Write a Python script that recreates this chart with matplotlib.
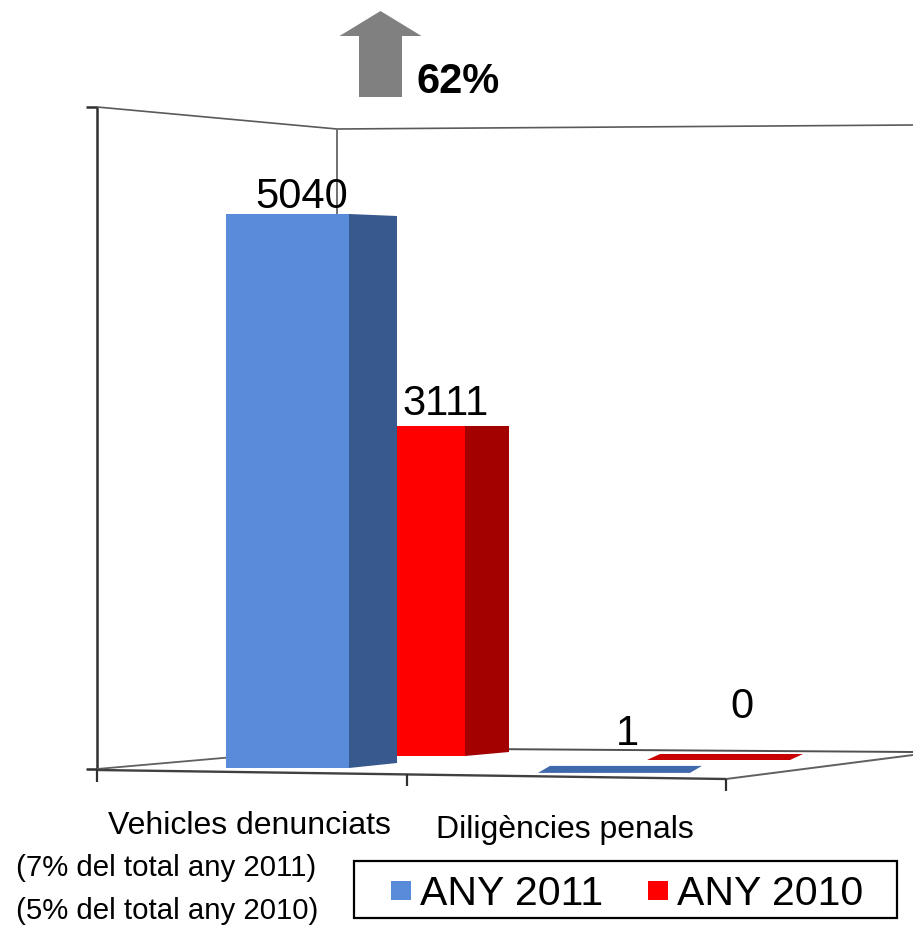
import matplotlib
matplotlib.use("Agg")
import matplotlib.pyplot as plt
from matplotlib.patches import Polygon, Rectangle, FancyArrow

# ---------------- data ----------------
categories = ["Vehicles denunciats", "Diligències penals"]
series_names = ["ANY 2011", "ANY 2010"]
values_2011 = [5040, 1]
values_2010 = [3111, 0]
change_label = "62%"
notes = ["(7% del total any 2011)", "(5% del total any 2010)"]

# ---------------- style ----------------
FONT = ["Liberation Sans", "DejaVu Sans"]
front_colors = {"ANY 2011": "#588CDA", "ANY 2010": "#FF0000"}
side_colors = {"ANY 2011": "#37598E", "ANY 2010": "#A30000"}
flat_colors = {"ANY 2011": "#4068AC", "ANY 2010": "#C80000"}
line_col = "#505050"

# pseudo-3D layout for each (category, series) slot
layout = {
    (0, 1): dict(x0=360, x1=465, floor=756, k=0.10608, sdx=44, stop=0, sbot=4,
                 tdx=0, tdy=0, lx=446, lgap=11),
    (0, 0): dict(x0=226, x1=349, floor=768, k=0.10992, sdx=48, stop=2, sbot=5,
                 tdx=0, tdy=0, lx=302, lgap=6),
    (1, 1): dict(x0=647, x1=790, floor=760, k=0.106, sdx=0, stop=0, sbot=0,
                 tdx=13, tdy=6, lx=742, lgap=42),
    (1, 0): dict(x0=538, x1=690, floor=773, k=0.11, sdx=0, stop=0, sbot=0,
                 tdx=12, tdy=7, lx=627, lgap=28),
}

W, H = 913, 925
fig = plt.figure(figsize=(W / 100, H / 100), dpi=100)
ax = fig.add_axes([0, 0, 1, 1])
ax.set_xlim(0, W)
ax.set_ylim(H, 0)
ax.axis("off")

# ---------------- walls & floor ----------------
def seg(xs, ys, lw=1.3, c=line_col, z=1):
    ax.plot(xs, ys, color=c, lw=lw, zorder=z, solid_capstyle="butt")

seg([97, 97], [107, 770], lw=1.8, c="#303030")
seg([86, 97], [107, 107], lw=1.8, c="#303030")
seg([86, 97], [769, 769], lw=1.8, c="#303030")
seg([97, 337, 913], [107, 129, 125], lw=1.2, c="#5a5a5a")
seg([337, 337], [129, 748], lw=1.4, c="#707070")
seg([97, 337], [769, 748], lw=1.3, c="#606060")
seg([337, 913], [748, 752], lw=1.4, c="#505050")
seg([97, 726], [770, 779], lw=1.7, c="#404040")
seg([726, 913], [779, 755], lw=1.4, c="#606060")
for tx, ty in [(97, 770), (407, 774), (726, 779)]:
    seg([tx, tx], [ty, ty + 12], lw=1.6, c="#303030")

# ---------------- bars ----------------
series_values = {"ANY 2011": values_2011, "ANY 2010": values_2010}
draw_order = [(0, 1), (0, 0), (1, 1), (1, 0)]
for (ci, si) in draw_order:
    name = series_names[si]
    v = series_values[name][ci]
    L = layout[(ci, si)]
    h = v * L["k"]
    top = L["floor"] - h
    z = 3 + (1 - si)
    if h > 2:
        ax.bar((L["x0"] + L["x1"]) / 2, -h, bottom=L["floor"], width=L["x1"] - L["x0"],
               color=front_colors[name], linewidth=0, zorder=z)
        if L["sdx"] > 0:
            ax.add_patch(Polygon([(L["x1"], top), (L["x1"] + L["sdx"], top + L["stop"]),
                                  (L["x1"] + L["sdx"], L["floor"] - L["sbot"]),
                                  (L["x1"], L["floor"])],
                                 closed=True, facecolor=side_colors[name],
                                 edgecolor="none", zorder=z))
    else:
        ax.add_patch(Polygon([(L["x0"], top), (L["x1"], top),
                              (L["x1"] + L["tdx"], top - L["tdy"]),
                              (L["x0"] + L["tdx"], top - L["tdy"])],
                             closed=True, facecolor=flat_colors[name],
                             edgecolor="none", zorder=z))
    ax.text(L["lx"], top - L["lgap"], f"{v}", ha="center", va="baseline",
            fontsize=30, family=FONT, color="black", zorder=10)

# ---------------- change arrow ----------------
ax.add_patch(FancyArrow(380.5, 97, 0, -86, width=43, head_width=82, head_length=25,
                        length_includes_head=True, color="#808080", linewidth=0, zorder=5))
ax.text(417, 93, change_label, ha="left", va="baseline", fontsize=30,
        fontweight="bold", family=FONT, color="black")

# ---------------- category labels ----------------
cat_pos = [(249, 834), (565, 838)]
for (x, y), lab in zip(cat_pos, categories):
    ax.text(x, y, lab, ha="center", va="baseline", fontsize=23, family=FONT,
            color="black")

note_pos = [(16, 876), (16, 919)]
for (x, y), lab in zip(note_pos, notes):
    ax.text(x, y, lab, ha="left", va="baseline", fontsize=21.2, family=FONT,
            color="black")

# ---------------- legend ----------------
ax.add_patch(Rectangle((354, 861), 543, 57, fill=False, edgecolor="black",
                       linewidth=1.6, zorder=6))
leg_items = [(391, 420), (648, 677)]
for (sx, tx), name in zip(leg_items, series_names):
    ax.add_patch(Rectangle((sx, 881), 20, 19, facecolor=front_colors[name],
                           edgecolor="none", zorder=7))
    ax.text(tx, 905, name, ha="left", va="baseline", fontsize=29.5, family=FONT,
            color="black", zorder=7)

fig.savefig("out.png", dpi=100)
